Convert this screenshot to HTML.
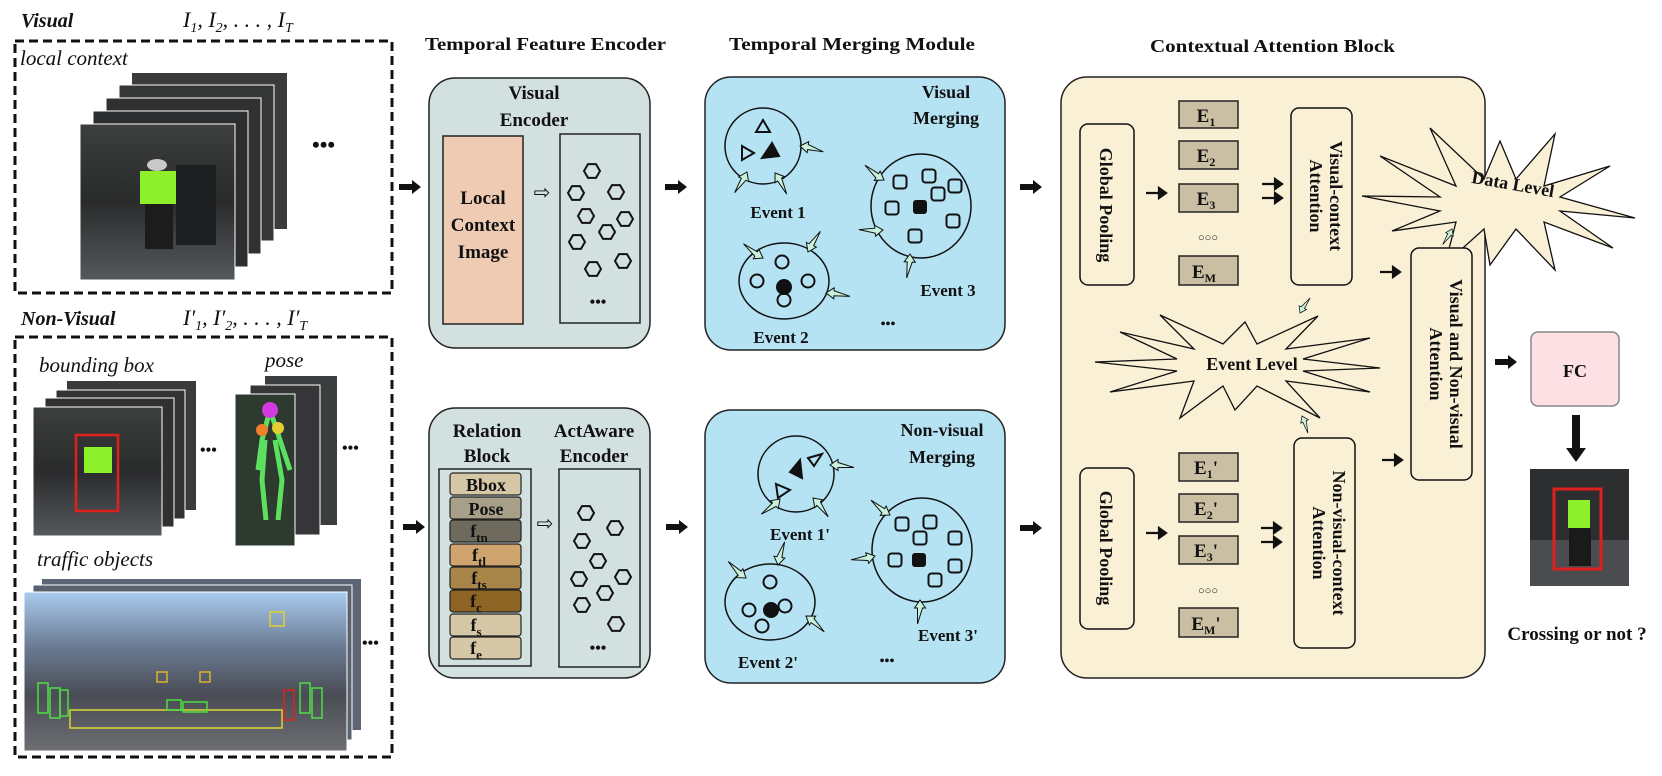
<!DOCTYPE html>
<html><head><meta charset="utf-8"><style>
html,body{margin:0;padding:0;background:#fff;}
svg{display:block;}
text{font-family:"Liberation Serif",serif;font-weight:bold;fill:#111;}
.it{font-style:italic;font-weight:normal;}
</style></head><body>
<svg width="1662" height="776" viewBox="0 0 1662 776" xmlns="http://www.w3.org/2000/svg">
<defs>
<path id="ha" d="M-24,-2.5 L-8,-2.5 L-8,-5.5 L0,0 L-8,5.5 L-8,2.5 Z" fill="#c9f2dc" stroke="#111" stroke-width="1"/>
<path id="ba" d="M-22,-3 L-9,-3 L-9,-7 L0,0 L-9,7 L-9,3 L-22,3 Z" fill="#111"/>
<path id="ta" d="M-20,0 L-6,0 M-7,-5 L0,0 L-7,5 Z" stroke="#111" stroke-width="2.2" fill="#111"/>
<polygon id="hex" points="8,0 4,6.9 -4,6.9 -8,0 -4,-6.9 4,-6.9" fill="none" stroke="#111" stroke-width="2"/>
<rect id="sq" x="-6.5" y="-6.5" width="13" height="13" rx="3" fill="none" stroke="#111" stroke-width="2"/>
<linearGradient id="scene" x1="0" y1="0" x2="0" y2="1"><stop offset="0" stop-color="#3c3f3e"/><stop offset="0.5" stop-color="#2a2b2c"/><stop offset="1" stop-color="#55585c"/></linearGradient>
<linearGradient id="city" x1="0" y1="0" x2="0" y2="1"><stop offset="0" stop-color="#a9cbee"/><stop offset="0.35" stop-color="#6a7a92"/><stop offset="0.65" stop-color="#4a4c55"/><stop offset="1" stop-color="#6e6f73"/></linearGradient>
</defs>

<!-- ===== Left: Visual ===== -->
<text x="21" y="27" class="it" style="font-weight:bold;font-size:20px">Visual</text>
<text x="183" y="27" class="it" style="font-size:22px">I<tspan font-size="14" dy="5">1</tspan><tspan dy="-5">, I</tspan><tspan font-size="14" dy="5">2</tspan><tspan dy="-5">, . . . , I</tspan><tspan font-size="14" dy="5">T</tspan></text>
<rect x="15" y="41" width="377" height="252" fill="none" stroke="#111" stroke-width="3" stroke-dasharray="9,5"/>
<text x="20" y="65" class="it" style="font-size:21px">local context</text>
<rect x="132" y="73" width="155" height="156" fill="#3a3b3b"/>
<rect x="119" y="85" width="155" height="156" fill="#353636" stroke="#fff" stroke-width="1"/>
<rect x="106" y="98" width="155" height="156" fill="#303132" stroke="#fff" stroke-width="1"/>
<rect x="93" y="111" width="155" height="156" fill="#2c2d2e" stroke="#fff" stroke-width="1"/>
<rect x="80" y="124" width="155" height="156" fill="url(#scene)" stroke="#fff" stroke-width="1"/>
<ellipse cx="157" cy="165" rx="10" ry="6" fill="#c9c9c9"/>
<rect x="140" y="171" width="36" height="33" fill="#8ef02a"/>
<rect x="145" y="204" width="28" height="45" fill="#1c1c1c"/>
<rect x="176" y="165" width="40" height="80" fill="#1e1f20"/>
<text x="312" y="152" style="font-size:22px">•••</text>

<!-- ===== Left: Non-Visual ===== -->
<text x="21" y="325" class="it" style="font-weight:bold;font-size:20px">Non-Visual</text>
<text x="183" y="325" class="it" style="font-size:22px">I′<tspan font-size="14" dy="5">1</tspan><tspan dy="-5">, I′</tspan><tspan font-size="14" dy="5">2</tspan><tspan dy="-5">, . . . , I′</tspan><tspan font-size="14" dy="5">T</tspan></text>
<rect x="15" y="337" width="377" height="420" fill="none" stroke="#111" stroke-width="3" stroke-dasharray="9,5"/>
<text x="39" y="372" class="it" style="font-size:21px">bounding box</text>
<text x="265" y="367" class="it" style="font-size:21px">pose</text>
<rect x="67" y="381" width="129" height="129" fill="#3a3b3b"/>
<rect x="56" y="390" width="129" height="129" fill="#333" stroke="#fff"/>
<rect x="45" y="398" width="129" height="129" fill="#2f3030" stroke="#fff"/>
<rect x="33" y="407" width="129" height="129" fill="url(#scene)" stroke="#fff"/>
<rect x="84" y="447" width="28" height="26" fill="#8ef02a"/>
<rect x="76" y="435" width="42" height="76" fill="none" stroke="#e0201c" stroke-width="2.5"/>
<text x="200" y="455" style="font-size:16px">•••</text>
<rect x="265" y="376" width="72" height="149" fill="#3c3d3e"/>
<rect x="250" y="385" width="70" height="150" fill="#353637" stroke="#fff"/>
<rect x="235" y="394" width="60" height="152" fill="#2e3a30" stroke="#fff"/>
<path d="M270,410 L262,440 L258,470 M270,410 L280,440 L290,470 M265,440 L262,480 L266,520 M275,440 L282,480 L278,520" stroke="#5ce060" stroke-width="5" fill="none"/>
<circle cx="270" cy="410" r="8" fill="#d23ae0"/>
<circle cx="262" cy="430" r="6" fill="#f0802a"/>
<circle cx="278" cy="428" r="6" fill="#e2d030"/>
<text x="342" y="453" style="font-size:16px">•••</text>
<text x="37" y="566" class="it" style="font-size:21px">traffic objects</text>
<rect x="42" y="579" width="319" height="151" fill="#5e6675"/>
<rect x="33" y="585" width="319" height="155" fill="#5a626f" stroke="#fff"/>
<rect x="24" y="592" width="323" height="159" fill="url(#city)" stroke="#fff"/>
<rect x="70" y="710" width="212" height="18" fill="none" stroke="#d8d830" stroke-width="1.5"/>
<rect x="38" y="683" width="10" height="30" fill="none" stroke="#4ce040" stroke-width="1.5"/>
<rect x="50" y="688" width="10" height="30" fill="none" stroke="#4ce040" stroke-width="1.5"/>
<rect x="60" y="690" width="8" height="26" fill="none" stroke="#4ce040" stroke-width="1.5"/>
<rect x="300" y="683" width="10" height="30" fill="none" stroke="#4ce040" stroke-width="1.5"/>
<rect x="312" y="688" width="10" height="30" fill="none" stroke="#4ce040" stroke-width="1.5"/>
<rect x="284" y="690" width="10" height="30" fill="none" stroke="#e0201c" stroke-width="1.5"/>
<rect x="167" y="700" width="14" height="10" fill="none" stroke="#4ce040" stroke-width="1.5"/>
<rect x="183" y="702" width="24" height="10" fill="none" stroke="#4ce040" stroke-width="1.5"/>
<rect x="157" y="672" width="10" height="10" fill="none" stroke="#e0b030" stroke-width="1.5"/>
<rect x="200" y="672" width="10" height="10" fill="none" stroke="#e0b030" stroke-width="1.5"/>
<rect x="270" y="612" width="14" height="14" fill="none" stroke="#e0d030" stroke-width="1.5"/>
<text x="362" y="648" style="font-size:16px">•••</text>

<!-- ===== arrows into TFE ===== -->
<use href="#ba" transform="translate(421,187)"/>
<use href="#ba" transform="translate(425,527)"/>

<!-- ===== Temporal Feature Encoder ===== -->
<text x="425" y="50" style="font-size:18px" textLength="241" lengthAdjust="spacingAndGlyphs">Temporal Feature Encoder</text>
<rect x="429" y="78" width="221" height="270" rx="26" fill="#d3e0e0" stroke="#222" stroke-width="1.5"/>
<text x="534" y="99" text-anchor="middle" style="font-size:19px">Visual</text>
<text x="534" y="126" text-anchor="middle" style="font-size:19px">Encoder</text>
<rect x="443" y="136" width="80" height="188" fill="#efcbb3" stroke="#222" stroke-width="1.5"/>
<text x="483" y="204" text-anchor="middle" style="font-size:19px">Local</text>
<text x="483" y="231" text-anchor="middle" style="font-size:19px">Context</text>
<text x="483" y="258" text-anchor="middle" style="font-size:19px">Image</text>
<text x="542" y="199" text-anchor="middle" style="font-size:20px;font-weight:normal">⇨</text>
<rect x="560" y="134" width="80" height="189" fill="#d3e0e0" stroke="#222" stroke-width="1.5"/>
<use href="#hex" x="592" y="171"/><use href="#hex" x="576" y="193"/><use href="#hex" x="616" y="192"/>
<use href="#hex" x="586" y="216"/><use href="#hex" x="625" y="219"/><use href="#hex" x="607" y="232"/>
<use href="#hex" x="577" y="242"/><use href="#hex" x="593" y="269"/><use href="#hex" x="623" y="261"/>
<text x="598" y="307" text-anchor="middle" style="font-size:16px">•••</text>

<rect x="429" y="408" width="221" height="270" rx="26" fill="#d3e0e0" stroke="#222" stroke-width="1.5"/>
<text x="487" y="437" text-anchor="middle" style="font-size:19px">Relation</text>
<text x="487" y="462" text-anchor="middle" style="font-size:19px">Block</text>
<text x="594" y="437" text-anchor="middle" style="font-size:19px">ActAware</text>
<text x="594" y="462" text-anchor="middle" style="font-size:19px">Encoder</text>
<rect x="439" y="469" width="92" height="197" fill="#d3e0e0" stroke="#222" stroke-width="1.5"/>
<g stroke="#222" stroke-width="1.2">
<rect x="450" y="473" width="71" height="22" rx="3" fill="#d6c8a6"/>
<rect x="450" y="497" width="71" height="22" rx="3" fill="#a89f88"/>
<rect x="450" y="520" width="71" height="22" rx="3" fill="#6e6a5e"/>
<rect x="450" y="544" width="71" height="22" rx="3" fill="#cfa46e"/>
<rect x="450" y="567" width="71" height="22" rx="3" fill="#a88548"/>
<rect x="450" y="590" width="71" height="22" rx="3" fill="#8d6424"/>
<rect x="450" y="614" width="71" height="22" rx="3" fill="#d6c8a6"/>
<rect x="450" y="637" width="71" height="22" rx="3" fill="#d6c8a6"/>
</g>
<g style="font-size:18px" text-anchor="middle">
<text x="486" y="491">Bbox</text>
<text x="486" y="515">Pose</text>
<text x="479" y="537">f<tspan font-size="13" dy="5">tn</tspan></text>
<text x="479" y="561">f<tspan font-size="13" dy="5">tl</tspan></text>
<text x="479" y="584">f<tspan font-size="13" dy="5">ts</tspan></text>
<text x="476" y="607">f<tspan font-size="13" dy="5">c</tspan></text>
<text x="476" y="631">f<tspan font-size="13" dy="5">s</tspan></text>
<text x="476" y="654">f<tspan font-size="13" dy="5">e</tspan></text>
</g>
<text x="545" y="530" text-anchor="middle" style="font-size:20px;font-weight:normal">⇨</text>
<rect x="559" y="469" width="81" height="198" fill="#d3e0e0" stroke="#222" stroke-width="1.5"/>
<use href="#hex" x="586" y="513"/><use href="#hex" x="615" y="528"/><use href="#hex" x="582" y="541"/>
<use href="#hex" x="598" y="561"/><use href="#hex" x="579" y="579"/><use href="#hex" x="623" y="577"/>
<use href="#hex" x="605" y="593"/><use href="#hex" x="582" y="605"/><use href="#hex" x="616" y="624"/>
<text x="598" y="653" text-anchor="middle" style="font-size:16px">•••</text>

<use href="#ba" transform="translate(687,187)"/>
<use href="#ba" transform="translate(688,527)"/>

<!-- ===== Temporal Merging Module ===== -->
<text x="729" y="50" style="font-size:18px" textLength="246" lengthAdjust="spacingAndGlyphs">Temporal Merging Module</text>
<rect x="705" y="77" width="300" height="273" rx="26" fill="#b5e3f4" stroke="#222" stroke-width="1.5"/>
<text x="946" y="98" text-anchor="middle" style="font-size:18px">Visual</text>
<text x="946" y="124" text-anchor="middle" style="font-size:18px">Merging</text>
<g fill="none" stroke="#111" stroke-width="1.5">
<circle cx="763" cy="146" r="38"/>
<ellipse cx="784" cy="281" rx="45" ry="38"/>
<ellipse cx="921" cy="206" rx="50" ry="52"/>
</g>
<g stroke="#111" stroke-width="2">
<polygon points="763,120 756,132 770,132" fill="none"/>
<polygon points="742,146 742,160 754,153" fill="none"/>
<polygon points="772,143 762,158 779,156" fill="#111"/>
<circle cx="782" cy="262" r="6.5" fill="none"/><circle cx="757" cy="281" r="6.5" fill="none"/>
<circle cx="808" cy="281" r="6.5" fill="none"/><circle cx="784" cy="300" r="6.5" fill="none"/>
<circle cx="784" cy="287" r="7" fill="#111"/>
</g>
<use href="#sq" x="900" y="182"/><use href="#sq" x="929" y="176"/><use href="#sq" x="938" y="194"/>
<use href="#sq" x="955" y="186"/><use href="#sq" x="892" y="208"/><use href="#sq" x="953" y="221"/>
<use href="#sq" x="915" y="236"/>
<rect x="913" y="200" width="14" height="14" rx="3" fill="#111"/>
<use href="#ha" transform="translate(800,146) rotate(188)"/>
<use href="#ha" transform="translate(747,172) rotate(-65)"/>
<use href="#ha" transform="translate(775,173) rotate(-125)"/>
<use href="#ha" transform="translate(763,258) rotate(30)"/>
<use href="#ha" transform="translate(808,252) rotate(115)"/>
<use href="#ha" transform="translate(826,293) rotate(182)"/>
<use href="#ha" transform="translate(884,180) rotate(32)"/>
<use href="#ha" transform="translate(883,230) rotate(-5)"/>
<use href="#ha" transform="translate(910,254) rotate(-88)"/>
<text x="778" y="218" text-anchor="middle" style="font-size:17px">Event 1</text>
<text x="948" y="296" text-anchor="middle" style="font-size:17px">Event 3</text>
<text x="781" y="343" text-anchor="middle" style="font-size:17px">Event 2</text>
<text x="888" y="328" text-anchor="middle" style="font-size:14px">•••</text>

<rect x="705" y="410" width="300" height="273" rx="26" fill="#b5e3f4" stroke="#222" stroke-width="1.5"/>
<text x="942" y="436" text-anchor="middle" style="font-size:18px">Non-visual</text>
<text x="942" y="463" text-anchor="middle" style="font-size:18px">Merging</text>
<g fill="none" stroke="#111" stroke-width="1.5">
<circle cx="796" cy="474" r="38"/>
<ellipse cx="770" cy="602" rx="45" ry="38"/>
<ellipse cx="922" cy="550" rx="50" ry="52"/>
</g>
<g stroke="#111" stroke-width="2">
<polygon points="800,460 790,472 802,478" fill="#111"/>
<polygon points="808,458 822,454 814,466" fill="none"/>
<polygon points="776,484 778,498 790,490" fill="none"/>
<circle cx="770" cy="582" r="6.5" fill="none"/><circle cx="749" cy="610" r="6.5" fill="none"/>
<circle cx="785" cy="606" r="6.5" fill="none"/><circle cx="762" cy="626" r="6.5" fill="none"/>
<circle cx="771" cy="610" r="7" fill="#111"/>
</g>
<use href="#sq" x="902" y="524"/><use href="#sq" x="930" y="522"/><use href="#sq" x="920" y="538"/>
<use href="#sq" x="955" y="538"/><use href="#sq" x="895" y="560"/><use href="#sq" x="955" y="566"/>
<use href="#sq" x="935" y="580"/>
<rect x="912" y="553" width="14" height="14" rx="3" fill="#111"/>
<use href="#ha" transform="translate(830,465) rotate(180)"/>
<use href="#ha" transform="translate(780,499) rotate(-45)"/>
<use href="#ha" transform="translate(813,498) rotate(-135)"/>
<use href="#ha" transform="translate(746,578) rotate(37)"/>
<use href="#ha" transform="translate(778,565) rotate(100)"/>
<use href="#ha" transform="translate(806,616) rotate(215)"/>
<use href="#ha" transform="translate(890,515) rotate(32)"/>
<use href="#ha" transform="translate(875,556) rotate(-15)"/>
<use href="#ha" transform="translate(920,600) rotate(-90)"/>
<text x="800" y="540" text-anchor="middle" style="font-size:17px">Event 1'</text>
<text x="768" y="668" text-anchor="middle" style="font-size:17px">Event 2'</text>
<text x="948" y="641" text-anchor="middle" style="font-size:17px">Event 3'</text>
<text x="887" y="665" text-anchor="middle" style="font-size:14px">•••</text>

<use href="#ba" transform="translate(1042,187)"/>
<use href="#ba" transform="translate(1042,528)"/>

<!-- ===== Contextual Attention Block ===== -->
<text x="1150" y="52" style="font-size:18px" textLength="245" lengthAdjust="spacingAndGlyphs">Contextual Attention Block</text>
<rect x="1061" y="77" width="424" height="601" rx="26" fill="#faf0d6" stroke="#222" stroke-width="1.5"/>

<!-- Event level star -->
<polygon points="1380,368 1303,371 1370,392 1286,381 1320,418 1257,386 1235,410 1223,386 1180,418 1194,381 1110,392 1177,371 1095,362 1177,359 1120,332 1194,349 1160,315 1223,344 1245,322 1257,344 1318,316 1286,349 1370,338 1303,359" fill="#faf0d6" stroke="#111" stroke-width="1.3"/>
<text x="1252" y="370" text-anchor="middle" style="font-size:18px">Event Level</text>

<!-- top row -->
<rect x="1080" y="124" width="54" height="161" rx="8" fill="#faf0d6" stroke="#111" stroke-width="1.5"/>
<text transform="translate(1100,205) rotate(90)" text-anchor="middle" style="font-size:18px">Global Pooling</text>
<use href="#ta" transform="translate(1166,193)"/>
<g fill="#cbbfa3" stroke="#222" stroke-width="1.5">
<rect x="1179" y="101" width="59" height="27"/>
<rect x="1179" y="141" width="59" height="28"/>
<rect x="1179" y="184" width="59" height="28"/>
<rect x="1179" y="256" width="59" height="29"/>
</g>
<g style="font-size:19px" text-anchor="middle">
<text x="1206" y="122">E<tspan font-size="12" dy="4">1</tspan></text>
<text x="1206" y="162">E<tspan font-size="12" dy="4">2</tspan></text>
<text x="1206" y="205">E<tspan font-size="12" dy="4">3</tspan></text>
<text x="1204" y="278">E<tspan font-size="12" dy="4">M</tspan></text>
</g>
<text x="1208" y="241" text-anchor="middle" style="font-size:11px;font-weight:normal">○○○</text>
<use href="#ta" transform="translate(1282,184)"/>
<use href="#ta" transform="translate(1282,198)"/>
<rect x="1291" y="108" width="61" height="177" rx="8" fill="#faf0d6" stroke="#111" stroke-width="1.5"/>
<text transform="translate(1330,196) rotate(90)" text-anchor="middle" style="font-size:18px">Visual-context</text>
<text transform="translate(1310,196) rotate(90)" text-anchor="middle" style="font-size:18px">Attention</text>
<use href="#ta" transform="translate(1400,272)"/>
<use href="#ha" transform="translate(1300,313) rotate(118) scale(0.75)"/>

<!-- data level star -->
<polygon points="1635,218 1560,211 1613,248 1544,222 1555,270 1516,229 1490,265 1484,229 1445,264 1456,222 1392,231 1440,211 1362,196 1440,197 1380,156 1456,186 1430,128 1484,179 1500,141 1516,179 1555,134 1544,186 1610,166 1560,197" fill="#faf0d6" stroke="#111" stroke-width="1.3"/>
<text transform="translate(1512,190) rotate(10)" text-anchor="middle" style="font-size:18px">Data Level</text>

<!-- VNVA -->
<rect x="1411" y="248" width="61" height="232" rx="8" fill="#faf0d6" stroke="#111" stroke-width="1.5"/>
<text transform="translate(1450,364) rotate(90)" text-anchor="middle" style="font-size:18px">Visual and Non-visual</text>
<text transform="translate(1430,364) rotate(90)" text-anchor="middle" style="font-size:18px">Attention</text>
<use href="#ha" transform="translate(1452,229) rotate(-65) scale(0.75)"/>

<!-- bottom row -->
<rect x="1080" y="468" width="54" height="161" rx="8" fill="#faf0d6" stroke="#111" stroke-width="1.5"/>
<text transform="translate(1100,548) rotate(90)" text-anchor="middle" style="font-size:18px">Global Pooling</text>
<use href="#ta" transform="translate(1166,533)"/>
<g fill="#cbbfa3" stroke="#222" stroke-width="1.5">
<rect x="1179" y="453" width="59" height="28"/>
<rect x="1179" y="494" width="59" height="28"/>
<rect x="1179" y="536" width="59" height="28"/>
<rect x="1179" y="608" width="59" height="29"/>
</g>
<g style="font-size:19px" text-anchor="middle">
<text x="1206" y="474">E<tspan font-size="12" dy="4">1</tspan><tspan dy="-4">'</tspan></text>
<text x="1206" y="515">E<tspan font-size="12" dy="4">2</tspan><tspan dy="-4">'</tspan></text>
<text x="1206" y="557">E<tspan font-size="12" dy="4">3</tspan><tspan dy="-4">'</tspan></text>
<text x="1206" y="630">E<tspan font-size="12" dy="4">M</tspan><tspan dy="-4">'</tspan></text>
</g>
<text x="1208" y="594" text-anchor="middle" style="font-size:11px;font-weight:normal">○○○</text>
<use href="#ta" transform="translate(1281,528)"/>
<use href="#ta" transform="translate(1281,542)"/>
<rect x="1294" y="438" width="61" height="210" rx="8" fill="#faf0d6" stroke="#111" stroke-width="1.5"/>
<text transform="translate(1333,543) rotate(90)" text-anchor="middle" style="font-size:18px">Non-visual-context</text>
<text transform="translate(1313,543) rotate(90)" text-anchor="middle" style="font-size:18px">Attention</text>
<use href="#ta" transform="translate(1402,460)"/>
<use href="#ha" transform="translate(1302,416) rotate(-115) scale(0.75)"/>

<!-- FC and output -->
<use href="#ba" transform="translate(1517,362)"/>
<rect x="1531" y="332" width="88" height="74" rx="7" fill="#fde0e4" stroke="#888" stroke-width="1.5"/>
<text x="1575" y="377" text-anchor="middle" style="font-size:18px">FC</text>
<path d="M1572,415 L1572,448 L1566,448 L1576,462 L1586,448 L1580,448 L1580,415 Z" fill="#111"/>
<rect x="1530" y="469" width="99" height="117" fill="#2c2e30"/>
<rect x="1530" y="540" width="99" height="46" fill="#4a4c50"/>
<rect x="1568" y="500" width="22" height="28" fill="#8ef02a"/>
<rect x="1569" y="528" width="22" height="38" fill="#1a1a1a"/>
<rect x="1554" y="489" width="47" height="80" fill="none" stroke="#e0201c" stroke-width="3"/>
<text x="1577" y="640" text-anchor="middle" style="font-size:19px">Crossing or not ?</text>
</svg>
</body></html>
